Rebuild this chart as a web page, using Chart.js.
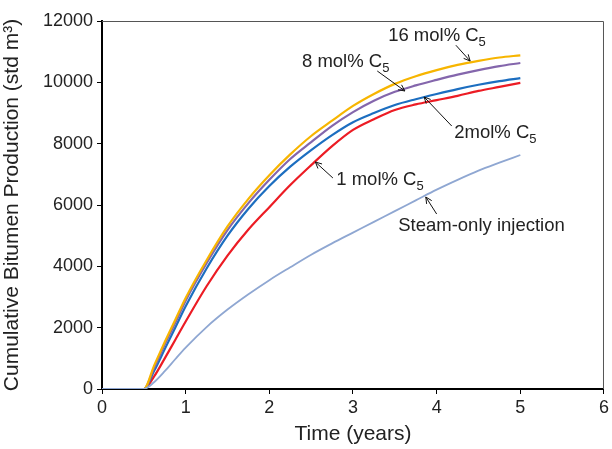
<!DOCTYPE html>
<html>
<head>
<meta charset="utf-8">
<script src="https://cdn.jsdelivr.net/npm/chart.js@4/dist/chart.umd.min.js"></script>
<style>
  html, body { margin: 0; padding: 0; background: #fff; }
  #wrap { width: 612px; height: 449px; }
</style>
</head>
<body>
<div id="wrap"><canvas id="chart" width="612" height="449"></canvas></div>
<script>
// waktu (tahun)
const times = [0, 0.25, 0.5, 0.625, 0.75, 0.875, 1, 1.25, 1.5, 1.75, 2, 2.25, 2.5, 2.75, 3, 3.25, 3.5, 3.75, 4, 4.25, 4.5, 4.75, 5];

// produksi kumulatif (std m3)
const c5_16 = [0, 0, 0, 780, 1530, 2250, 2970, 4200, 5300, 6200, 6970, 7650, 8250, 8750, 9230, 9620, 9950, 10200, 10400, 10570, 10700, 10810, 10880];
const c5_8  = [0, 0, 0, 700, 1450, 2150, 2880, 4100, 5180, 6060, 6820, 7500, 8050, 8580, 9030, 9400, 9690, 9900, 10080, 10250, 10400, 10530, 10630];
const c5_2  = [0, 0, 0, 600, 1300, 2000, 2700, 3930, 5000, 5880, 6620, 7250, 7790, 8280, 8700, 9000, 9260, 9450, 9620, 9780, 9920, 10040, 10140];
const c5_1  = [0, 0, 0, 420, 1000, 1600, 2200, 3350, 4350, 5200, 5930, 6650, 7300, 7920, 8450, 8800, 9100, 9280, 9420, 9560, 9720, 9850, 9980];
const steamOnly = [0, 0, 0, 230, 580, 970, 1350, 2020, 2590, 3090, 3550, 3970, 4380, 4750, 5100, 5450, 5800, 6150, 6500, 6820, 7120, 7380, 7630];

const xTicks = [0, 1, 2, 3, 4, 5, 6];
const yTicks = [0, 2000, 4000, 6000, 8000, 10000, 12000];

// label anotasi: teks utama, subskrip, posisi teks (data), ekor & kepala panah (data)
const notes = [
    { text: '16 mol% C', sub: '5', at: [3.42, 11348], tail: [4.23, 11210], head: [4.40, 10695] },
    { text: '8 mol% C', sub: '5', at: [2.39, 10500], tail: [3.29, 10370], head: [3.62, 9718] },
    { text: '2mol% C', sub: '5', at: [4.21, 8185], tail: [4.18, 8576], head: [3.85, 9522] },
    { text: '1 mol% C', sub: '5', at: [2.80, 6652], tail: [2.76, 6880], head: [2.55, 7402] },
    { text: 'Steam-only injection', sub: '', at: [3.54, 5152], tail: [4.00, 5706], head: [3.87, 6261] },
];

const FONT = '"Liberation Sans", Arial, Helvetica, sans-serif';

function toPoints(values) {
    return times.map((t, i) => ({ x: t, y: values[i] }));
}

function series(label, values, color, width) {
    return {
        label: label,
        data: toPoints(values),
        borderColor: color,
        backgroundColor: color,
        borderWidth: width,
        pointRadius: 0,
        cubicInterpolationMode: 'monotone',
        fill: false,
    };
}

// plugin: bingkai atas/kanan + anotasi dengan panah
const annotate = {
    id: 'annotate',
    afterDatasetsDraw(chart) {
        const { ctx, chartArea: a, scales } = chart;
        const sx = scales.x, sy = scales.y;
        ctx.save();
        ctx.strokeStyle = '#555';
        ctx.lineWidth = 1;
        ctx.beginPath();
        ctx.moveTo(a.left, a.top + 0.5);
        ctx.lineTo(a.right - 0.5, a.top + 0.5);
        ctx.lineTo(a.right - 0.5, a.bottom);
        ctx.stroke();

        ctx.fillStyle = '#222';
        ctx.strokeStyle = '#111';
        ctx.textBaseline = 'alphabetic';
        notes.forEach(n => {
            const x = sx.getPixelForValue(n.at[0]);
            const y = sy.getPixelForValue(n.at[1]);
            ctx.font = '18.5px ' + FONT;
            ctx.fillText(n.text, x, y);
            if (n.sub) {
                const w = ctx.measureText(n.text).width;
                ctx.font = '13px ' + FONT;
                ctx.fillText(n.sub, x + w, y + 5);
            }
            const x1 = sx.getPixelForValue(n.tail[0]), y1 = sy.getPixelForValue(n.tail[1]);
            const x2 = sx.getPixelForValue(n.head[0]), y2 = sy.getPixelForValue(n.head[1]);
            const ang = Math.atan2(y2 - y1, x2 - x1);
            const L = 7, spread = 0.45;
            ctx.lineWidth = 1;
            ctx.beginPath();
            ctx.moveTo(x1, y1);
            ctx.lineTo(x2, y2);
            ctx.moveTo(x2 - L * Math.cos(ang - spread), y2 - L * Math.sin(ang - spread));
            ctx.lineTo(x2, y2);
            ctx.lineTo(x2 - L * Math.cos(ang + spread), y2 - L * Math.sin(ang + spread));
            ctx.stroke();
        });
        ctx.restore();
    }
};

const chart = new Chart(document.getElementById('chart').getContext('2d'), {
    type: 'line',
    data: {
        datasets: [
            series('Steam-only injection', steamOnly, '#8FA7D2', 1.8),
            series('16 mol% C5', c5_16, '#F7B500', 2.2),
            series('8 mol% C5', c5_8, '#8466AC', 2.2),
            series('2mol% C5', c5_2, '#1C6EC0', 2.2),
            series('1 mol% C5', c5_1, '#EC1C24', 2.2),
        ]
    },
    options: {
        responsive: false,
        animation: false,
        events: [],
        layout: { padding: { top: 21, right: 6, left: 0, bottom: 0 } },
        plugins: { legend: { display: false }, tooltip: { enabled: false } },
        scales: {
            x: {
                type: 'linear',
                min: 0,
                max: 6,
                afterBuildTicks: s => { s.ticks = xTicks.map(v => ({ value: v })); },
                afterFit: s => { s.height = 60; },
                ticks: { color: '#222', font: { family: FONT, size: 18 }, padding: 3, maxRotation: 0, callback: v => String(v) },
                grid: { drawOnChartArea: false, drawTicks: true, tickLength: 5, color: '#000', tickWidth: 1 },
                border: { color: '#000', width: 2 },
                title: { display: true, text: 'Time (years)', color: '#222', font: { family: FONT, size: 21 }, padding: { top: 0, bottom: 2 } }
            },
            y: {
                type: 'linear',
                min: 0,
                max: 12000,
                afterBuildTicks: s => { s.ticks = yTicks.map(v => ({ value: v })); },
                afterFit: s => { s.width = 102; },
                ticks: { color: '#222', font: { family: FONT, size: 18 }, padding: 4, callback: v => String(v) },
                grid: { drawOnChartArea: false, drawTicks: true, tickLength: 5, color: '#000', tickWidth: 1 },
                border: { color: '#000', width: 2 },
                title: { display: true, text: 'Cumulative Bitumen Production (std m³)', color: '#222', font: { family: FONT, size: 21 }, padding: { top: 0, bottom: 0 } }
            }
        }
    },
    plugins: [annotate]
});
</script>
</body>
</html>
